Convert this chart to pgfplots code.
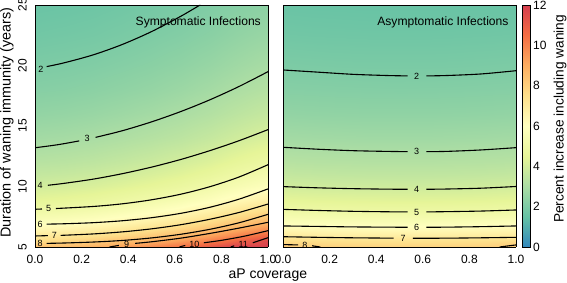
\documentclass[border=0pt]{standalone}
\usepackage{fontspec}
\setmainfont{Liberation Sans}
\usepackage{pgfplots}
\pgfplotsset{compat=1.18}
\pgfplotsset{/pgf/number format/assume math mode=true}
\pgfplotsset{colormap={spec}{rgb255=(50,136,189) rgb255=(102,194,165) rgb255=(171,221,164) rgb255=(230,245,152) rgb255=(255,255,191) rgb255=(254,224,139) rgb255=(253,174,97) rgb255=(244,109,67) rgb255=(213,62,79)}}
\tikzset{clab/.style={font=\fontsize{9}{9}\selectfont, inner sep=0pt, text=black}}
\pgfplotsset{
  panel/.style={
    view={0}{90}, scale only axis, width=233pt, height=242pt, anchor=south west,
    xmin=0, xmax=1, ymin=5, ymax=25,
    xtick={0,0.2,0.4,0.6,0.8,1},
    major tick length=0pt,
    ztick=\empty,
    ticklabel style={font=\fontsize{12}{14}\selectfont},
    xticklabel style={anchor=north, inner sep=0pt, /pgf/number format/fixed, /pgf/number format/fixed zerofill, /pgf/number format/precision=1},
    xticklabel shift=8pt,
    axis on top,
    axis line style={line width=0.8pt},
    point meta min=0, point meta max=12,
    colormap name=spec,
  },
  cline/.style={black, line width=1.1pt, smooth},
}
\begin{document}
\begin{tikzpicture}
\useasboundingbox (0,0) rectangle (567pt,283pt);

\begin{axis}[panel, at={(35pt,36pt)},
  ytick={5,10,15,20,25},
  yticklabel style={rotate=90, anchor=south, inner sep=0pt},
  yticklabel shift=8pt]
\addplot3[surf, shader=interp, mesh/cols=9, mesh/rows=17] coordinates {
(0,5,8.42) (0.125,5,8.63) (0.25,5,8.92) (0.375,5,9.35) (0.5,5,9.85) (0.625,5,10.46) (0.75,5,11.21) (0.875,5,12) (1,5,12)
(0,5.5,7.61) (0.125,5.5,7.79) (0.25,5.5,8.06) (0.375,5.5,8.44) (0.5,5.5,8.89) (0.625,5.5,9.43) (0.75,5.5,10.10) (0.875,5.5,10.91) (1,5.5,11.65)
(0,6,6.93) (0.125,6,7.10) (0.25,6,7.34) (0.375,6,7.69) (0.5,6,8.09) (0.625,6,8.58) (0.75,6,9.18) (0.875,6,9.92) (1,6,10.58)
(0,6.5,6.36) (0.125,6.5,6.51) (0.25,6.5,6.73) (0.375,6.5,7.04) (0.5,6.5,7.41) (0.625,6.5,7.86) (0.75,6.5,8.41) (0.875,6.5,9.07) (1,6.5,9.68)
(0,7,5.88) (0.125,7,6.01) (0.25,7,6.21) (0.375,7,6.49) (0.5,7,6.83) (0.625,7,7.24) (0.75,7,7.74) (0.875,7,8.35) (1,7,8.90)
(0,7.5,5.45) (0.125,7.5,5.58) (0.25,7.5,5.75) (0.375,7.5,6.02) (0.5,7.5,6.32) (0.625,7.5,6.70) (0.75,7.5,7.16) (0.875,7.5,7.72) (1,7.5,8.23)
(0,8,5.08) (0.125,8,5.19) (0.25,8,5.36) (0.375,8,5.60) (0.5,8,5.88) (0.625,8,6.23) (0.75,8,6.66) (0.875,8,7.18) (1,8,7.64)
(0,9,4.46) (0.125,9,4.56) (0.25,9,4.70) (0.375,9,4.91) (0.5,9,5.15) (0.625,9,5.45) (0.75,9,5.81) (0.875,9,6.26) (1,9,6.66)
(0,10,3.97) (0.125,10,4.05) (0.25,10,4.17) (0.375,10,4.35) (0.5,10,4.56) (0.625,10,4.82) (0.75,10,5.14) (0.875,10,5.53) (1,10,5.88)
(0,11,3.61) (0.125,11,3.68) (0.25,11,3.79) (0.375,11,3.95) (0.5,11,4.15) (0.625,11,4.38) (0.75,11,4.67) (0.875,11,5.03) (1,11,5.35)
(0,12,3.31) (0.125,12,3.38) (0.25,12,3.48) (0.375,12,3.63) (0.5,12,3.80) (0.625,12,4.02) (0.75,12,4.28) (0.875,12,4.61) (1,12,4.90)
(0,14,2.84) (0.125,14,2.89) (0.25,14,2.98) (0.375,14,3.11) (0.5,14,3.26) (0.625,14,3.44) (0.75,14,3.67) (0.875,14,3.95) (1,14,4.20)
(0,16,2.48) (0.125,16,2.53) (0.25,16,2.61) (0.375,16,2.72) (0.5,16,2.85) (0.625,16,3.01) (0.75,16,3.21) (0.875,16,3.46) (1,16,3.68)
(0,18,2.21) (0.125,18,2.25) (0.25,18,2.32) (0.375,18,2.42) (0.5,18,2.53) (0.625,18,2.68) (0.75,18,2.86) (0.875,18,3.07) (1,18,3.27)
(0,20,1.99) (0.125,20,2.03) (0.25,20,2.09) (0.375,20,2.18) (0.5,20,2.28) (0.625,20,2.41) (0.75,20,2.57) (0.875,20,2.77) (1,20,2.94)
(0,22.5,1.76) (0.125,22.5,1.80) (0.25,22.5,1.85) (0.375,22.5,1.93) (0.5,22.5,2.03) (0.625,22.5,2.14) (0.75,22.5,2.28) (0.875,22.5,2.46) (1,22.5,2.61)
(0,25,1.59) (0.125,25,1.62) (0.25,25,1.67) (0.375,25,1.74) (0.5,25,1.82) (0.625,25,1.93) (0.75,25,2.06) (0.875,25,2.21) (1,25,2.35)
};
% contour 2
\addplot[cline] coordinates {(0.05,19.91) (0.125,20.22) (0.25,20.88) (0.375,21.74) (0.5,22.8) (0.625,24.06) (0.71,25.02)};
\node[clab] at (axis cs:0.025,19.72) {2};
% contour 3
\addplot[cline] coordinates {(0,13.2) (0.1,13.46) (0.19,13.77)};
\addplot[cline] coordinates {(0.26,14.06) (0.375,14.61) (0.5,15.34) (0.625,16.19) (0.75,17.16) (0.875,18.26) (1,19.49)};
\node[clab] at (axis cs:0.224,13.95) {3};
% contour 4
\addplot[cline] coordinates {(0.055,10.1) (0.125,10.26) (0.25,10.61) (0.375,11.06) (0.5,11.6) (0.625,12.23) (0.75,12.96) (0.875,13.78) (1,14.7)};
\node[clab] at (axis cs:0.022,10.05) {4};
% contour 5
\addplot[cline] coordinates {(0,8.12) (0.03,8.14)};
\addplot[cline] coordinates {(0.09,8.18) (0.25,8.35) (0.375,8.57) (0.5,8.9) (0.625,9.36) (0.75,9.98) (0.875,10.78) (1,11.8)};
\node[clab] at (axis cs:0.058,8.16) {5};
% contour 6
\addplot[cline] coordinates {(0.05,6.89) (0.125,6.92) (0.25,7.01) (0.375,7.17) (0.5,7.42) (0.625,7.78) (0.75,8.28) (0.875,8.95) (1,9.8)};
\node[clab] at (axis cs:0.022,6.87) {6};
% contour 7
\addplot[cline] coordinates {(0,5.91) (0.055,5.94)};
\addplot[cline] coordinates {(0.11,5.96) (0.25,6.08) (0.375,6.25) (0.5,6.5) (0.625,6.84) (0.75,7.29) (0.875,7.85) (1,8.55)};
\node[clab] at (axis cs:0.083,5.95) {7};
% contour 8
\addplot[cline] coordinates {(0.05,5.3) (0.125,5.33) (0.25,5.41) (0.375,5.54) (0.5,5.75) (0.625,6.05) (0.75,6.46) (0.875,7.0) (1,7.7)};
\node[clab] at (axis cs:0.022,5.27) {8};
% contour 9
\addplot[cline] coordinates {(0.32,5.0) (0.36,5.13)};
\addplot[cline] coordinates {(0.43,5.3) (0.5,5.43) (0.625,5.73) (0.75,6.12) (0.875,6.56) (1,7.04)};
\node[clab] at (axis cs:0.393,5.22) {9};
% contour 10
\addplot[cline] coordinates {(0.62,5.0) (0.645,5.13)};
\addplot[cline] coordinates {(0.725,5.35) (0.8,5.55) (0.9,5.9) (1,6.35)};
\node[clab] at (axis cs:0.684,5.24) {10};
% contour 11
\addplot[cline] coordinates {(0.84,5.0) (0.855,5.1)};
\addplot[cline] coordinates {(0.935,5.35) (1,5.77)};
\node[clab] at (axis cs:0.894,5.22) {11};
\end{axis}

\begin{axis}[panel, at={(283pt,36pt)},
  ytick=\empty,
  colorbar right,
  colorbar shift/.style={xshift=6pt},
  colorbar style={
    at={(parent axis.north east)}, anchor=north west,
    width=8pt,
    ytick={0,2,4,6,8,10,12},
    major tick length=0pt,
    yticklabel style={font=\fontsize{12}{14}\selectfont, anchor=west, inner sep=0pt},
    yticklabel shift=3pt,
    axis line style={line width=0.6pt},
  }]
\addplot3[surf, shader=interp, mesh/cols=9, mesh/rows=17] coordinates {
(0,5,8.30) (0.125,5,8.05) (0.25,5,7.95) (0.375,5,7.92) (0.5,5,7.90) (0.625,5,7.92) (0.75,5,7.94) (0.875,5,7.99) (1,5,8.20)
(0,5.5,7.61) (0.125,5.5,7.53) (0.25,5.5,7.47) (0.375,5.5,7.43) (0.5,5.5,7.42) (0.625,5.5,7.43) (0.75,5.5,7.47) (0.875,5.5,7.53) (1,5.5,7.61)
(0,6,6.93) (0.125,6,6.85) (0.25,6,6.80) (0.375,6,6.77) (0.5,6,6.76) (0.625,6,6.77) (0.75,6,6.80) (0.875,6,6.85) (1,6,6.93)
(0,6.5,6.36) (0.125,6.5,6.29) (0.25,6.5,6.24) (0.375,6.5,6.21) (0.5,6.5,6.20) (0.625,6.5,6.21) (0.75,6.5,6.24) (0.875,6.5,6.29) (1,6.5,6.36)
(0,7,5.88) (0.125,7,5.82) (0.25,7,5.77) (0.375,7,5.74) (0.5,7,5.73) (0.625,7,5.74) (0.75,7,5.77) (0.875,7,5.82) (1,7,5.88)
(0,7.5,5.45) (0.125,7.5,5.39) (0.25,7.5,5.35) (0.375,7.5,5.32) (0.5,7.5,5.31) (0.625,7.5,5.32) (0.75,7.5,5.35) (0.875,7.5,5.39) (1,7.5,5.45)
(0,8,5.08) (0.125,8,5.02) (0.25,8,4.98) (0.375,8,4.96) (0.5,8,4.95) (0.625,8,4.96) (0.75,8,4.98) (0.875,8,5.02) (1,8,5.08)
(0,9,4.46) (0.125,9,4.41) (0.25,9,4.38) (0.375,9,4.36) (0.5,9,4.35) (0.625,9,4.36) (0.75,9,4.38) (0.875,9,4.41) (1,9,4.46)
(0,10,3.97) (0.125,10,3.93) (0.25,10,3.89) (0.375,10,3.88) (0.5,10,3.87) (0.625,10,3.88) (0.75,10,3.89) (0.875,10,3.93) (1,10,3.97)
(0,11,3.61) (0.125,11,3.57) (0.25,11,3.54) (0.375,11,3.53) (0.5,11,3.52) (0.625,11,3.53) (0.75,11,3.54) (0.875,11,3.57) (1,11,3.61)
(0,12,3.31) (0.125,12,3.27) (0.25,12,3.25) (0.375,12,3.23) (0.5,12,3.23) (0.625,12,3.23) (0.75,12,3.25) (0.875,12,3.27) (1,12,3.31)
(0,14,2.84) (0.125,14,2.81) (0.25,14,2.79) (0.375,14,2.77) (0.5,14,2.77) (0.625,14,2.77) (0.75,14,2.79) (0.875,14,2.81) (1,14,2.84)
(0,16,2.48) (0.125,16,2.45) (0.25,16,2.43) (0.375,16,2.42) (0.5,16,2.42) (0.625,16,2.42) (0.75,16,2.43) (0.875,16,2.45) (1,16,2.48)
(0,18,2.21) (0.125,18,2.19) (0.25,18,2.17) (0.375,18,2.16) (0.5,18,2.15) (0.625,18,2.16) (0.75,18,2.17) (0.875,18,2.19) (1,18,2.21)
(0,20,1.99) (0.125,20,1.97) (0.25,20,1.95) (0.375,20,1.94) (0.5,20,1.94) (0.625,20,1.94) (0.75,20,1.95) (0.875,20,1.97) (1,20,1.99)
(0,22.5,1.76) (0.125,22.5,1.74) (0.25,22.5,1.73) (0.375,22.5,1.72) (0.5,22.5,1.72) (0.625,22.5,1.72) (0.75,22.5,1.73) (0.875,22.5,1.74) (1,22.5,1.76)
(0,25,1.59) (0.125,25,1.57) (0.25,25,1.56) (0.375,25,1.55) (0.5,25,1.55) (0.625,25,1.55) (0.75,25,1.56) (0.875,25,1.57) (1,25,1.59)
};
% contour 2
\addplot[cline] coordinates {(0,19.63) (0.15,19.45) (0.3,19.27) (0.45,19.17) (0.535,19.14)};
\addplot[cline] coordinates {(0.615,19.14) (0.7,19.17) (0.85,19.3) (1,19.57)};
\node[clab] at (axis cs:0.574,19.13) {2};
% contour 3
\addplot[cline] coordinates {(0,13.24) (0.15,13.08) (0.3,12.96) (0.45,12.9) (0.535,12.88)};
\addplot[cline] coordinates {(0.615,12.88) (0.7,12.9) (0.85,13.02) (1,13.21)};
\node[clab] at (axis cs:0.574,12.88) {3};
% contour 4
\addplot[cline] coordinates {(0,9.99) (0.15,9.89) (0.3,9.82) (0.45,9.78) (0.535,9.77)};
\addplot[cline] coordinates {(0.615,9.77) (0.7,9.79) (0.85,9.86) (1,10.0)};
\node[clab] at (axis cs:0.574,9.77) {4};
% contour 5
\addplot[cline] coordinates {(0,8.11) (0.15,8.02) (0.3,7.95) (0.45,7.91) (0.535,7.9)};
\addplot[cline] coordinates {(0.615,7.9) (0.7,7.92) (0.85,7.97) (1,8.06)};
\node[clab] at (axis cs:0.574,7.89) {5};
% contour 6
\addplot[cline] coordinates {(0,6.74) (0.15,6.7) (0.3,6.66) (0.45,6.64) (0.535,6.63)};
\addplot[cline] coordinates {(0.615,6.63) (0.7,6.64) (0.85,6.68) (1,6.74)};
\node[clab] at (axis cs:0.574,6.63) {6};
% contour 7
\addplot[cline] coordinates {(0,5.85) (0.15,5.8) (0.3,5.76) (0.475,5.73)};
\addplot[cline] coordinates {(0.557,5.72) (0.7,5.73) (0.85,5.76) (1,5.8)};
\node[clab] at (axis cs:0.516,5.72) {7};
% contour 8
\addplot[cline] coordinates {(0,5.2) (0.065,5.17)};
\addplot[cline] coordinates {(0.125,5.1) (0.16,5.0)};
\addplot[cline] coordinates {(0.93,5.0) (0.97,5.1) (1,5.17)};
\node[clab] at (axis cs:0.094,5.15) {8};
\end{axis}

\node[anchor=base, rotate=90, inner sep=0pt, font=\fontsize{14.4}{16}\selectfont] at (10.5pt,160.5pt) {Duration of waning immunity (years)};
\node[anchor=base, inner sep=0pt, font=\fontsize{14}{16}\selectfont] at (267.8pt,4.8pt) {aP coverage};
\node[anchor=base, rotate=90, inner sep=0pt, font=\fontsize{13.7}{16}\selectfont] at (563.5pt,164pt) {Percent increase including waning};
\node[anchor=base east, inner sep=0pt, font=\fontsize{12.1}{14}\selectfont] at (261pt,257.5pt) {Symptomatic Infections};
\node[anchor=base east, inner sep=0pt, font=\fontsize{12.1}{14}\selectfont] at (508.7pt,257.5pt) {Asymptomatic Infections};
\end{tikzpicture}
\end{document}
